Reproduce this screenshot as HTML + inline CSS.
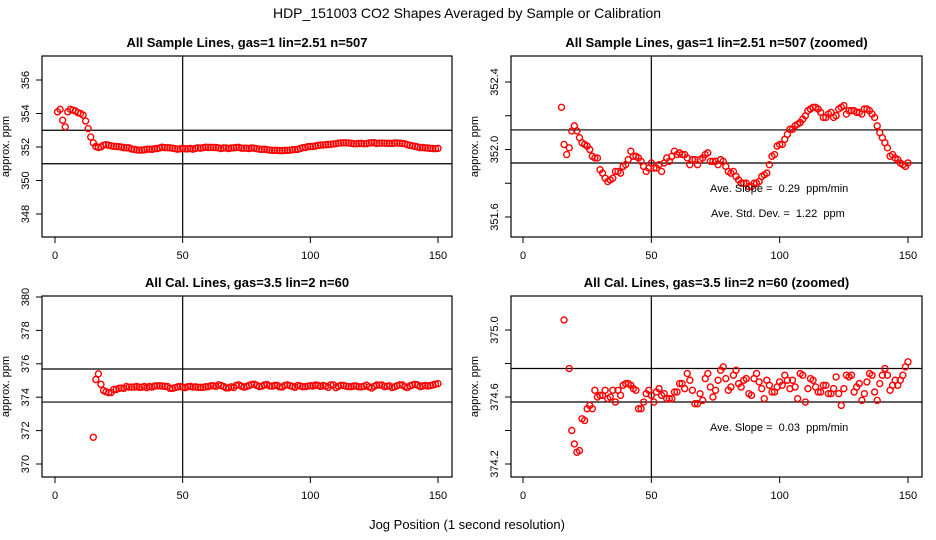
<!DOCTYPE html>
<html><head><meta charset="utf-8"><style>
html,body{margin:0;padding:0;background:#fff;width:936px;height:540px;overflow:hidden;}
svg{display:block;font-family:"Liberation Sans",sans-serif;}
</style></head><body>
<svg id="chart" width="936" height="540" viewBox="0 0 936 540" xmlns="http://www.w3.org/2000/svg">
<rect width="936" height="540" fill="#fff"/>
<text x="467" y="18" font-size="14" text-anchor="middle">HDP_151003  CO2 Shapes Averaged by Sample or Calibration</text>
<text x="467" y="529" font-size="13" text-anchor="middle">Jog Position (1 second resolution)</text>
</svg>
<script>
// ---- data ----
const sampleEarly = [354.1,354.25,353.6,353.2,354.1,354.25,354.2,354.15,354.05,354.0,353.9,353.55,353.1,352.6];
const sampleVals = [352.25,352.03,351.97,352.01,352.11,352.14,352.11,352.07,352.04,352.03,352.02,352.0,351.96,351.95,351.95,351.88,351.86,351.83,351.81,351.82,351.83,351.87,351.87,351.86,351.90,351.91,351.94,351.99,351.96,351.96,351.95,351.93,351.90,351.87,351.89,351.92,351.89,351.89,351.91,351.87,351.92,351.95,351.93,351.96,351.99,351.97,351.98,351.97,351.97,351.95,351.91,351.94,351.94,351.91,351.94,351.95,351.97,351.98,351.93,351.93,351.93,351.91,351.94,351.93,351.90,351.87,351.86,351.87,351.84,351.82,351.80,351.80,351.80,351.78,351.78,351.80,351.80,351.81,351.84,351.85,351.86,351.91,351.96,351.97,352.02,352.03,352.03,352.06,352.09,352.12,352.12,352.14,352.15,352.16,352.18,352.20,352.23,352.24,352.25,352.25,352.24,352.22,352.19,352.19,352.21,352.22,352.19,352.20,352.24,352.25,352.26,352.21,352.23,352.23,352.23,352.22,352.22,352.21,352.24,352.24,352.23,352.21,352.19,352.14,352.10,352.07,352.04,352.01,351.96,351.97,351.95,351.94,351.92,351.91,351.90,351.92];
const calVals = [371.6,375.06,375.4,374.77,374.40,374.32,374.27,374.28,374.47,374.46,374.53,374.55,374.53,374.64,374.60,374.61,374.61,374.64,374.59,374.60,374.64,374.57,374.64,374.61,374.67,374.68,374.68,374.67,374.65,374.64,374.53,374.53,374.57,374.62,374.64,374.61,374.57,374.63,374.65,374.61,374.62,374.59,374.59,374.59,374.63,374.63,374.68,374.68,374.65,374.74,374.70,374.64,374.56,374.56,374.62,374.58,374.71,374.74,374.66,374.60,374.64,374.70,374.76,374.78,374.71,374.64,374.66,374.73,374.76,374.68,374.66,374.70,374.71,374.62,374.61,374.71,374.74,374.69,374.65,374.59,374.70,374.67,374.63,374.63,374.66,374.69,374.67,374.73,374.70,374.65,374.70,374.66,374.59,374.74,374.73,374.57,374.65,374.71,374.70,374.66,374.63,374.63,374.67,374.67,374.62,374.62,374.65,374.72,374.62,374.55,374.65,374.73,374.72,374.73,374.63,374.66,374.68,374.58,374.62,374.69,374.74,374.73,374.63,374.58,374.68,374.73,374.77,374.73,374.64,374.67,374.70,374.67,374.70,374.73,374.78,374.81];
const xTicks = [0,50,100,150];
const sampleTicks = [348,350,352,354,356];
const sampleZoomTicks = [351.6,351.8,352.0,352.2,352.4];
const sampleZoomLabels = ["351.6","","352.0","","352.4"];
const calTicks = [370,372,374,376,378,380];
const calZoomTicks = [374.2,374.4,374.6,374.8,375.0];
const calZoomLabels = ["374.2","","374.6","","375.0"];
const sampleHLines = [353,351];
const sampleZoomHLines = [352.116,351.92];
const calHLines = [375.69,373.71];
const calZoomHLines = [374.77,374.57];

const svg = document.getElementById('chart');
const NS = 'http://www.w3.org/2000/svg';
function mk(tag, attrs, parent){const e=document.createElementNS(NS,tag);for(const k in attrs)e.setAttribute(k,attrs[k]);(parent||svg).appendChild(e);return e;}

function panel(cfg){
  const g = mk('g',{});
  
  
  const xs = v => cfg.x0 + (cfg.x150-cfg.x0)*v/150;
  const ys = v => cfg.yRefPx + (cfg.yRef - v)*cfg.pxPer;
  const t = mk('text',{x:(cfg.bx0+cfg.bx1)/2,y:cfg.by0-9,'font-size':13,'font-weight':'bold','text-anchor':'middle'},g);
  t.textContent = cfg.title;
  
  
  const cid = cfg.name+'-clip';
  const cp = mk('clipPath',{id:cid},g);
  mk('rect',{x:cfg.bx0,y:cfg.by0,width:cfg.bx1-cfg.bx0,height:cfg.by1-cfg.by0},cp);
  const vl = mk('line',{x1:xs(50),x2:xs(50),y1:cfg.by0,y2:cfg.by1,stroke:'#000','stroke-width':1.2},g);
  
  
  cfg.hlines.forEach(h=>{
    const l = mk('line',{x1:cfg.bx0,x2:cfg.bx1,y1:ys(h),y2:ys(h),stroke:'#000','stroke-width':1.2},g);
    
    
  });
  const pg = mk('g',{'clip-path':'url(#'+cid+')'},g);
  cfg.points.forEach(p=>{
    const c = mk('circle',{cx:xs(p[0]),cy:ys(p[1]),r:3,fill:'none',stroke:'#ff0000','stroke-width':1.4},pg);
    
    
  });
  const b = mk('rect',{x:cfg.bx0,y:cfg.by0,width:cfg.bx1-cfg.bx0,height:cfg.by1-cfg.by0,fill:'none',stroke:'#000','stroke-width':1.2},g);
  
  
  xTicks.forEach(v=>{
    mk('line',{x1:xs(v),x2:xs(v),y1:cfg.by1,y2:cfg.by1+6,stroke:'#000'},g);
    const tl = mk('text',{x:xs(v),y:cfg.by1+22,'font-size':11,'text-anchor':'middle'},g);
    tl.textContent = v;
    
    
  });
  cfg.yticks.forEach((v,i)=>{
    mk('line',{x1:cfg.bx0-6,x2:cfg.bx0,y1:ys(v),y2:ys(v),stroke:'#000'},g);
    const lab = cfg.ylabels ? cfg.ylabels[i] : String(v);
    if(lab){
      const tx = cfg.bx0-13, ty = ys(v);
      const tl = mk('text',{x:tx,y:ty,'font-size':11,'text-anchor':'middle',transform:'rotate(-90 '+tx+' '+ty+')'},g);
      tl.textContent = lab;
      
      
    }
  });
  const yl = mk('text',{x:cfg.bx0-33,y:(cfg.by0+cfg.by1)/2,'font-size':11,'text-anchor':'middle',transform:'rotate(-90 '+(cfg.bx0-33)+' '+((cfg.by0+cfg.by1)/2)+')'},g);
  yl.textContent = 'approx. ppm';
  
  
  (cfg.notes||[]).forEach(n=>{
    const nt = mk('text',{x:n[0],y:n[1],'font-size':11},g);
    nt.setAttribute('style','white-space:pre');
    nt.textContent = n[2];
    
    
  });
}

const samplePts = sampleEarly.map((v,i)=>[i+1,v]).concat(sampleVals.map((v,i)=>[i+15,v]));
const sampleZoomPts = sampleVals.map((v,i)=>[i+15,v]);
const calPts = calVals.map((v,i)=>[i+15,v]);

panel({name:'sample-panel',title:'All Sample Lines, gas=1 lin=2.51 n=507',bx0:42,bx1:452,by0:56,by1:237,x0:55,x150:438,yRef:356,yRefPx:80,pxPer:16.75,yticks:sampleTicks,hlines:sampleHLines,points:samplePts});
panel({name:'sample-zoomed-panel',title:'All Sample Lines, gas=1 lin=2.51 n=507 (zoomed)',bx0:511,bx1:922,by0:56,by1:237,x0:523,x150:908,yRef:352.4,yRefPx:82,pxPer:168.75,yticks:sampleZoomTicks,ylabels:sampleZoomLabels,hlines:sampleZoomHLines,points:sampleZoomPts,notes:[[710,192,'Ave. Slope =  0.29  ppm/min'],[711,217,'Ave. Std. Dev. =  1.22  ppm']]});
panel({name:'cal-panel',title:'All Cal. Lines, gas=3.5 lin=2 n=60',bx0:42,bx1:452,by0:296,by1:477,x0:55,x150:438,yRef:380,yRefPx:297,pxPer:16.7,yticks:calTicks,hlines:calHLines,points:calPts});
panel({name:'cal-zoomed-panel',title:'All Cal. Lines, gas=3.5 lin=2 n=60 (zoomed)',bx0:511,bx1:922,by0:296,by1:477,x0:523,x150:908,yRef:375,yRefPx:330,pxPer:167.5,yticks:calZoomTicks,ylabels:calZoomLabels,hlines:calZoomHLines,points:calPts,notes:[[710,431,'Ave. Slope =  0.03  ppm/min']]});
</script>
</body></html>
